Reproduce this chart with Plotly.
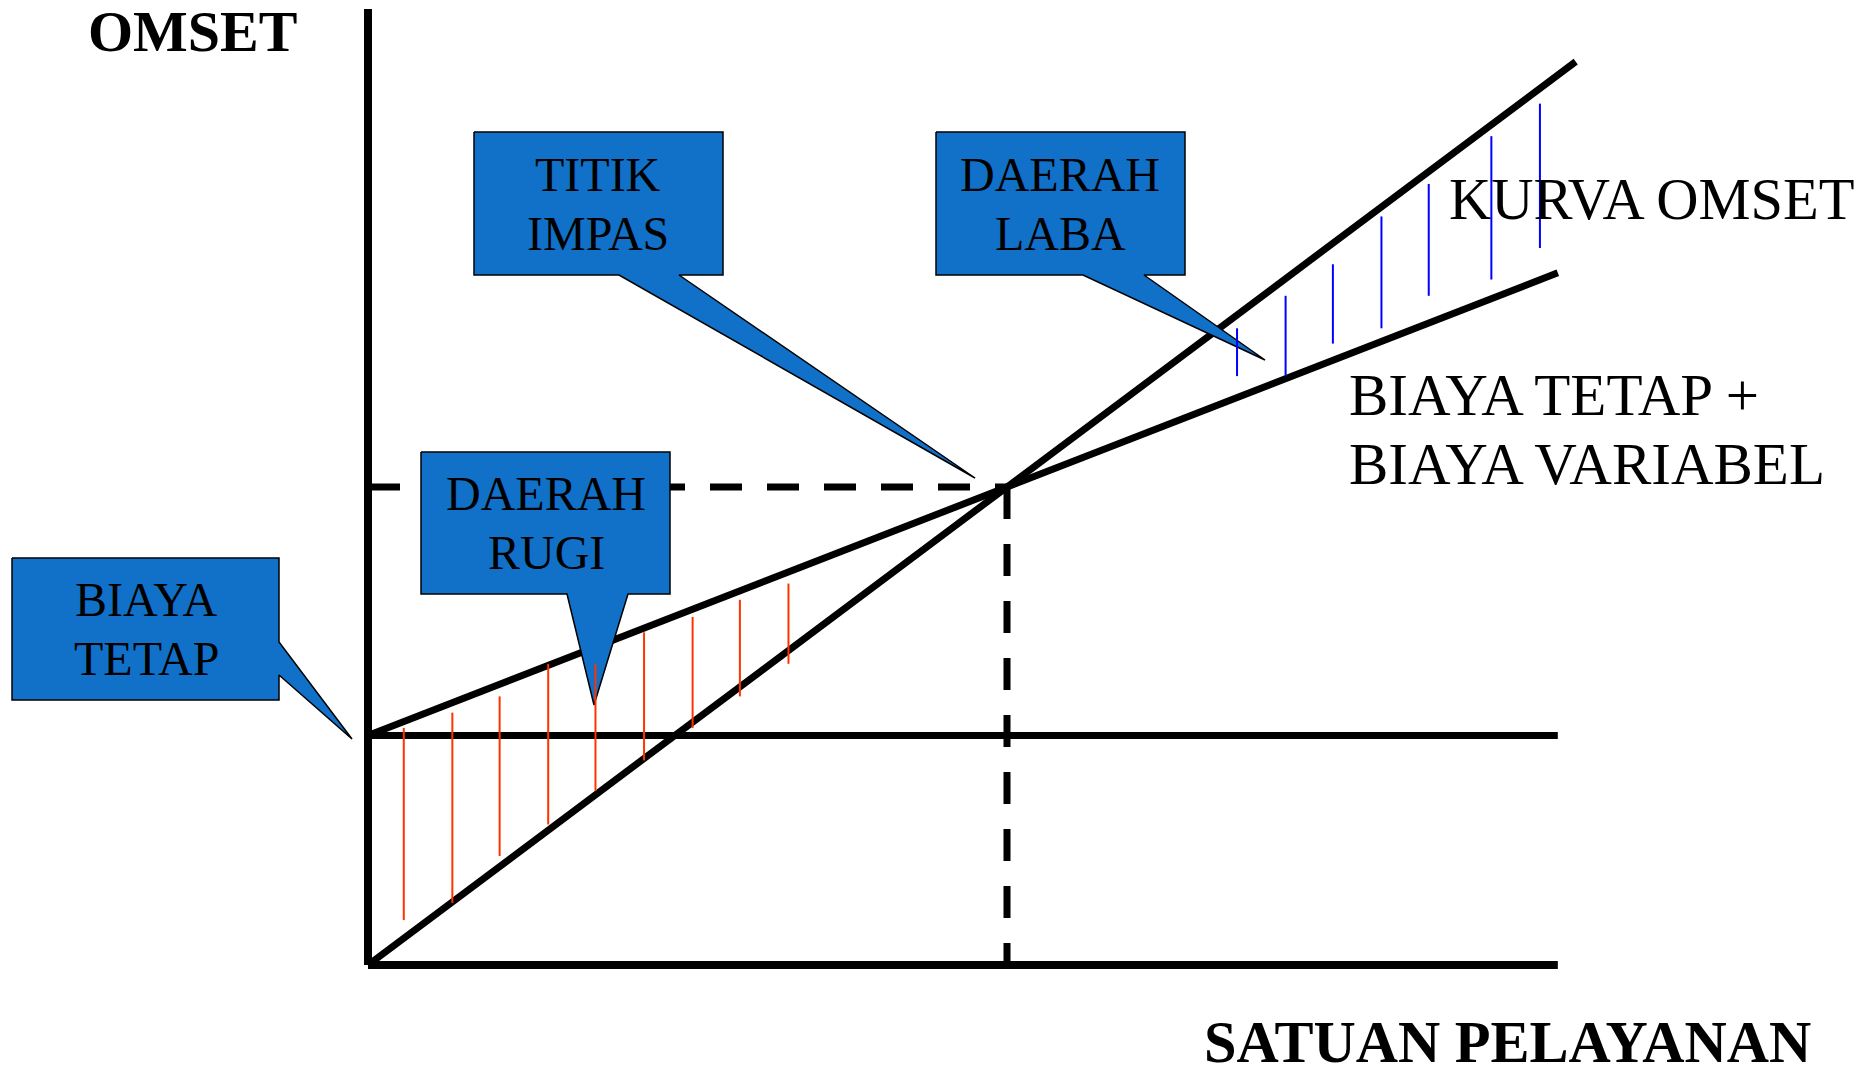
import plotly.graph_objects as go

# Values (quantity in units, money in currency)
fixed_cost = 240
bep_units = 50
bep_value = 500
axis_units = [0, 93.1]
axis_top = 1000
cost_units = [0, 93.1]
fixed_line = [240, 240]
total_cost = [240, 724]
rev_units = [0, 94.5]
revenue = [0, 945]

# hatch marks in the loss area (red) and profit area (blue)
loss_units = [2.8, 6.6, 10.3, 14.1, 17.8, 21.6, 25.4, 29.1, 32.9]
loss_top = [248, 264, 281, 315, 315, 348, 364, 382, 399]
loss_bottom = [47, 65, 114, 147, 182, 214, 248, 281, 315]
profit_units = [68.0, 71.8, 75.5, 79.3, 83.0, 87.9, 91.7]
profit_top = [666, 700, 733, 783, 817, 867, 901]
profit_bottom = [616, 616, 650, 666, 700, 717, 750]

# page geometry
W, H, OFF = 1868, 1077, 0
X0, Y0 = 368, 965
PXQ, PXM = 12.78, 0.956


def qx(p):
    return (p - X0) / PXQ


def my(p):
    return (Y0 - p) / PXM


def px(p):
    return (p - OFF) / W


def py(p):
    return 1 - (p - OFF) / H


BLACK = "#000000"
BOX = "#1170C8"
SERIF = "Liberation Serif, Times New Roman, serif"

fig = go.Figure()

# axes
fig.add_trace(go.Scatter(x=axis_units, y=[0, 0], mode="lines",
                         line=dict(color=BLACK, width=8)))
fig.add_trace(go.Scatter(x=[0, 0], y=[0, axis_top], mode="lines",
                         line=dict(color=BLACK, width=8)))

# fixed cost, total cost, revenue
fig.add_trace(go.Scatter(x=cost_units, y=fixed_line, mode="lines",
                         line=dict(color=BLACK, width=7)))
fig.add_trace(go.Scatter(x=cost_units, y=total_cost, mode="lines",
                         line=dict(color=BLACK, width=7)))
fig.add_trace(go.Scatter(x=rev_units, y=revenue, mode="lines",
                         line=dict(color=BLACK, width=7)))

# dashed guides to the break-even point
fig.add_trace(go.Scatter(x=[0, bep_units], y=[bep_value, bep_value], mode="lines",
                         line=dict(color=BLACK, width=7, dash="32px,25px")))
fig.add_trace(go.Scatter(x=[bep_units, bep_units], y=[bep_value, 0], mode="lines",
                         line=dict(color=BLACK, width=7, dash="32px,25px")))

# callout boxes (page pixel outlines)
callouts = [
    [(474, 132), (723, 132), (723, 275), (679, 275), (975, 478), (619, 275), (474, 275)],
    [(936, 132), (1185, 132), (1185, 275), (1144, 275), (1265, 360), (1083, 275), (936, 275)],
    [(421, 452), (670, 452), (670, 594), (628, 594), (594, 705), (567, 594), (421, 594)],
    [(12, 558), (279, 558), (279, 642), (352, 739), (279, 675), (279, 700), (12, 700)],
]
for pts in callouts:
    pts = pts + [pts[0]]
    fig.add_trace(go.Scatter(
        x=[qx(p[0]) for p in pts], y=[my(p[1]) for p in pts],
        mode="lines", fill="toself", fillcolor=BOX,
        line=dict(color=BLACK, width=1.5)))


def hatch(units, top, bottom):
    xs, ys = [], []
    for q, t, b in zip(units, top, bottom):
        xs += [q, q, None]
        ys += [t, b, None]
    return xs, ys


hx, hy = hatch(loss_units, loss_top, loss_bottom)
fig.add_trace(go.Scatter(x=hx, y=hy, mode="lines", line=dict(color="#FF3300", width=2)))
hx, hy = hatch(profit_units, profit_top, profit_bottom)
fig.add_trace(go.Scatter(x=hx, y=hy, mode="lines", line=dict(color="#0000FF", width=2)))

# text: (text, x, y at cap middle, anchor, size, bold)
texts = [
    ("OMSET", 193, 32, "center", 58, True),
    ("SATUAN PELAYANAN", 1507, 1042, "center", 58.5, True),
    ("KURVA OMSET", 1447, 199, "left", 58.5, False),
    ("BIAYA TETAP +", 1347, 395, "left", 59, False),
    ("BIAYA VARIABEL", 1347, 464, "left", 59, False),
    ("TITIK", 598, 174, "center", 48, False),
    ("IMPAS", 598, 233, "center", 48, False),
    ("DAERAH", 1060, 174, "center", 48, False),
    ("LABA", 1060, 233, "center", 48, False),
    ("DAERAH", 546, 493, "center", 48, False),
    ("RUGI", 546, 553, "center", 48, False),
    ("BIAYA", 146, 599, "center", 48, False),
    ("TETAP", 146, 658, "center", 48, False),
]
for txt, x, y, anchor, size, bold in texts:
    fig.add_annotation(
        x=px(x), y=py(y), xref="paper", yref="paper",
        text="<b>%s</b>" % txt if bold else txt,
        xanchor=anchor, yanchor="middle", showarrow=False,
        font=dict(family=SERIF, size=size, color=BLACK))

fig.update_layout(
    width=W, height=H,
    margin=dict(l=0, r=0, t=0, b=0),
    paper_bgcolor="white", plot_bgcolor="white",
    showlegend=False, hovermode=False,
    xaxis=dict(range=[qx(OFF), qx(OFF + W)], visible=False, fixedrange=True),
    yaxis=dict(range=[my(OFF + H), my(OFF)], visible=False, fixedrange=True),
)

# drop the default body margin so the figure fills the window exactly
fig.write_html("out.html", config={"displayModeBar": False},
               post_script="document.body.style.margin='0';")
